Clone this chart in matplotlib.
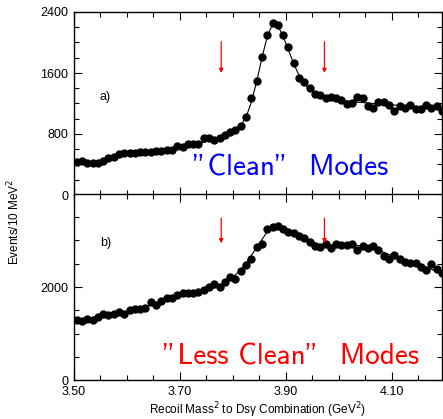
import numpy as np
import matplotlib
matplotlib.use("Agg")
import matplotlib.pyplot as plt
from matplotlib.ticker import MultipleLocator

plt.rcParams["font.family"] = ["Liberation Sans", "DejaVu Sans"]

# bin centres, 10 MeV^2 bins
mass = np.arange(70) * 0.01 + 3.505

# a) "clean" modes
clean_counts = [437, 446, 415, 424, 415, 450, 481, 503, 533, 546,
                555, 546, 568, 568, 568, 577, 577, 590, 590, 647,
                634, 664, 664, 669, 743, 752, 721, 743, 787, 822,
                852, 905, 1027, 1268, 1495, 1813, 2098, 2259, 2229, 2098,
                1936, 1735, 1538, 1486, 1407, 1324, 1311, 1268, 1281, 1268,
                1245, 1189, 1210, 1281, 1277, 1167, 1136, 1219, 1219, 1180,
                1106, 1167, 1145, 1176, 1123, 1123, 1176, 1136, 1167, 1101]
clean_fit = [440, 437, 433, 432, 436, 446, 465, 490, 515, 535,
             548, 556, 562, 567, 572, 578, 585, 594, 605, 617,
             630, 643, 657, 672, 690, 710, 730, 752, 778, 810,
             850, 910, 1020, 1220, 1490, 1800, 2080, 2240, 2220, 2080,
             1900, 1720, 1570, 1460, 1385, 1335, 1300, 1278, 1262, 1250,
             1240, 1232, 1225, 1218, 1212, 1206, 1200, 1195, 1190, 1185,
             1180, 1175, 1170, 1165, 1160, 1156, 1152, 1148, 1144, 1140]

# b) "less clean" modes
less_counts = [1301, 1279, 1322, 1286, 1357, 1429, 1408, 1429, 1464, 1414,
               1500, 1536, 1536, 1543, 1678, 1607, 1700, 1772, 1764, 1836,
               1871, 1871, 1870, 1895, 1944, 2000, 2057, 2000, 2107, 2214,
               2179, 2342, 2464, 2608, 2857, 2929, 3251, 3285, 3307, 3251,
               3193, 3157, 3107, 3058, 2964, 2872, 2857, 2929, 2843, 2914,
               2893, 2907, 2914, 2786, 2872, 2843, 2872, 2786, 2657, 2593,
               2693, 2607, 2536, 2521, 2514, 2429, 2357, 2486, 2393, 2300]
less_fit = [1295, 1310, 1325, 1342, 1360, 1380, 1400, 1420, 1442, 1465,
            1490, 1520, 1550, 1580, 1612, 1645, 1678, 1710, 1742, 1772,
            1800, 1828, 1856, 1884, 1914, 1946, 1984, 2030, 2090, 2165,
            2260, 2380, 2520, 2680, 2850, 3020, 3190, 3290, 3300, 3265,
            3220, 3170, 3120, 3070, 3010, 2950, 2910, 2895, 2890, 2890,
            2895, 2900, 2900, 2895, 2880, 2860, 2830, 2790, 2745, 2700,
            2660, 2620, 2580, 2540, 2500, 2460, 2420, 2380, 2340, 2300]

xticks = [3.50, 3.70, 3.90, 4.10]

# signal window arrows
arrow_x = [3.778, 3.973]
clean_arrow = (2010, 1600)
less_arrow = (3480, 2940)

fig = plt.figure(figsize=(4.43, 4.19), dpi=100)
ax1 = fig.add_axes([74 / 443, 224 / 419, 368 / 443, 183 / 419])
ax2 = fig.add_axes([74 / 443, 39 / 419, 368 / 443, 186 / 419])


def style(ax, ymax, major, minor):
    ax.set_xlim(3.5, 4.195)
    ax.set_ylim(0, ymax)
    ax.set_xticks(xticks)
    ax.xaxis.set_minor_locator(MultipleLocator(0.05))
    ax.yaxis.set_major_locator(MultipleLocator(major))
    ax.yaxis.set_minor_locator(MultipleLocator(minor))
    ax.tick_params(which="both", direction="in", top=True, right=True,
                   width=0.8, labelsize=9, pad=4)
    ax.tick_params(which="major", length=6)
    ax.tick_params(which="minor", length=3.5)
    for s in ax.spines.values():
        s.set_linewidth(1.0)
    ax.xaxis.set_major_formatter(plt.FormatStrFormatter("%.2f"))


for ax, counts, fit, arr in [(ax1, clean_counts, clean_fit, clean_arrow),
                             (ax2, less_counts, less_fit, less_arrow)]:
    ax.plot(mass, fit, color="black", lw=0.8, zorder=2)
    ax.plot(mass, counts, "o", color="black", ms=5, zorder=3)
    for xa in arrow_x:
        ax.annotate("", xy=(xa, arr[1]), xytext=(xa, arr[0]),
                    arrowprops=dict(arrowstyle="-|>", color="red", lw=0.9,
                                    mutation_scale=6, shrinkA=0, shrinkB=0))

style(ax1, 2400, 800, 200)
style(ax2, 4000, 2000, 500)
ax1.tick_params(labelbottom=False)
ax2.set_yticks([0, 2000])

ax1.text(0.07, 0.52, "a)", transform=ax1.transAxes, fontsize=9)
ax2.text(0.07, 0.72, "b)", transform=ax2.transAxes, fontsize=9)

ax1.text(0.59, 0.105, "\"Clean\"  Modes", transform=ax1.transAxes,
         ha="center", va="baseline", color="#0000ff", fontsize=21,
         family=["cmss10", "DejaVu Sans"])
ax2.text(0.589, 0.082, "\"Less Clean\"  Modes", transform=ax2.transAxes,
         ha="center", va="baseline", color="#ff0000", fontsize=21,
         family=["cmss10", "DejaVu Sans"])

ax2.set_xlabel("Recoil Mass$^2$ to Ds\u03b3 Combination (GeV$^2$)",
               fontsize=8.5, labelpad=2)
fig.text(0.032, 0.47, "Events/10 MeV$^2$", rotation=90, fontsize=8.5,
         ha="center", va="center")

fig.savefig("out.png", dpi=100)
